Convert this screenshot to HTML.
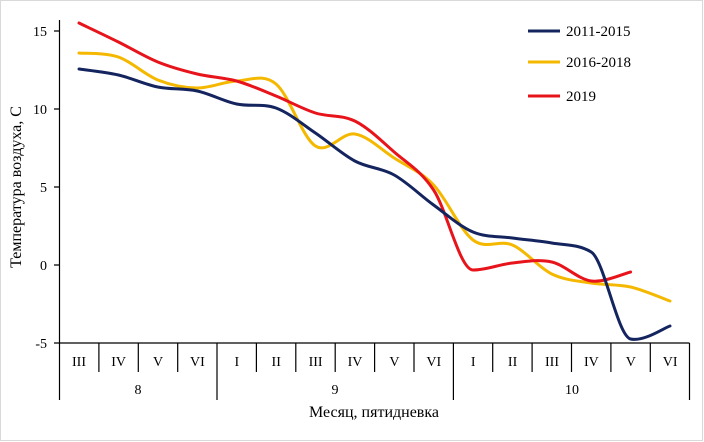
<!DOCTYPE html><html><head><style>body{margin:0;background:#fff}svg{display:block}text{font-family:"Liberation Serif",serif;fill:#000}</style></head><body>
<svg width="704" height="442" viewBox="0 0 704 442">
<rect x="0.5" y="0.5" width="702" height="440" fill="#fff" stroke="#d9d9d9"/>
<g font-size="14" text-anchor="end">
<text x="47" y="36">15</text><text x="47" y="114">10</text><text x="47" y="192">5</text><text x="47" y="270">0</text><text x="47" y="348">-5</text></g>
<g stroke="#000" stroke-width="1.2" fill="none">
<path d="M59.5 20V400M54 31H59.5M54 109H59.5M54 187H59.5M54 265H59.5M54 343H689.5"/>
<path d="M98.9 343V372M138.3 343V372M177.7 343V372M256.4 343V372M295.8 343V372M335.2 343V372M374.6 343V372M414 343V372M492.7 343V372M532.1 343V372M571.5 343V372M610.9 343V372M650.3 343V372M217 343V400M453.4 343V400M689.5 343V400"/></g>
<g font-size="14" text-anchor="middle">
<text x="79" y="366">III</text><text x="118.6" y="366">IV</text><text x="158" y="366">V</text><text x="197.4" y="366">VI</text><text x="236.8" y="366">I</text><text x="276.2" y="366">II</text><text x="315.6" y="366">III</text><text x="355" y="366">IV</text><text x="394.4" y="366">V</text><text x="433.8" y="366">VI</text><text x="473.2" y="366">I</text><text x="512.6" y="366">II</text><text x="552" y="366">III</text><text x="591.4" y="366">IV</text><text x="630.8" y="366">V</text><text x="670.2" y="366">VI</text>
<text x="138" y="394">8</text><text x="335" y="394">9</text><text x="572" y="394">10</text>
<text x="374" y="417" font-size="16">Месяц, пятидневка</text>
<text transform="translate(21,187) rotate(-90)" font-size="16">Температура воздуха, С</text></g>
<g fill="none" stroke-width="3" stroke-linejoin="round" stroke-linecap="round">
<path stroke="#f5b800" d="M79 53 C85.6 53.67 105.3 52.5 118.4 57 S144.7 74.83 157.8 80 S184.1 87.83 197.2 88 S223.5 81.67 236.6 81 S262.9 73.17 276 84 S302.3 137.67 315.4 146 S341.7 132 354.8 134 S381.1 149.5 394.2 158 S420.5 171.33 433.6 185 S459.9 230 473 240 S499.3 239.33 512.4 245 S538.7 267.67 551.8 274 S578.1 280.83 591.2 283 S617.5 284 630.6 287 S663.4 298.67 670 301"/>
<path stroke="#e8141b" d="M79 23 C85.6 26.2 105.3 35.5 118.4 42 S144.7 56.67 157.8 62 S184.1 70.83 197.2 74 S223.5 77.33 236.6 81 S262.9 90.67 276 96 S302.3 108.83 315.4 113 S341.7 114.5 354.8 121 S381.1 140.5 394.2 152 S420.5 170.33 433.6 190 S459.9 270 473 270 S499.3 264.33 512.4 263 S538.7 259 551.8 262 S578.1 279.33 591.2 281 S624 273.5 630.6 272"/>
<path stroke="#14245e" d="M79 69 C85.6 70 105.3 72 118.4 75 S144.7 84.33 157.8 87 S184.1 88.17 197.2 91 S223.5 101.17 236.6 104 S262.9 103.17 276 108 S302.3 124.17 315.4 133 S341.7 154 354.8 161 S381.1 167.67 394.2 175 S420.5 195.5 433.6 205 S459.9 226.5 473 232 S499.3 236.17 512.4 238 S538.7 240.67 551.8 243 S578.1 244 591.2 252 S617.5 336 630.6 339 S663.4 328.17 670 326"/>
</g>
<g font-size="15"><path d="M528 31H560" stroke="#14245e" stroke-width="3"/><text x="566" y="36">2011-2015</text>
<path d="M528 62H560" stroke="#f5b800" stroke-width="3"/><text x="566" y="67">2016-2018</text>
<path d="M528 96H560" stroke="#e8141b" stroke-width="3"/><text x="566" y="101">2019</text></g>
</svg></body></html>
